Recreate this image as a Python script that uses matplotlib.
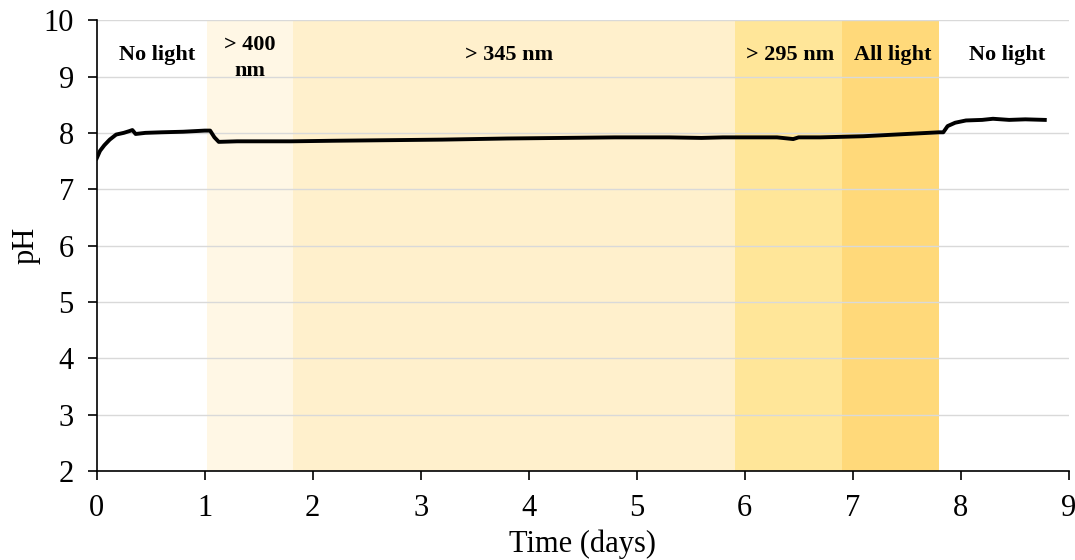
import numpy as np
from matplotlib import pyplot as plt, rcParams

rcParams["font.family"] = ["Liberation Serif", "DejaVu Serif"]

# Light treatment periods (days)
band_starts = [1.02, 1.82, 5.91, 6.90]
band_ends = [1.82, 5.91, 6.90, 7.80]
band_colors = ["#fff7e5", "#fff0cc", "#ffe699", "#ffd97a"]

# Period labels
label_text = ["No light", "> 400\nnm", "> 345 nm", "> 295 nm", "All light", "No light"]
label_x = [0.56, 1.42, 3.82, 6.42, 7.37, 8.43]

# pH record
time_days = [0.00, 0.03, 0.07, 0.12, 0.18, 0.25, 0.30, 0.33, 0.36, 0.45, 0.60,
             0.80, 1.00, 1.05, 1.09, 1.13, 1.30, 1.60, 1.80, 2.20, 2.70, 3.20,
             3.80, 4.30, 4.80, 5.30, 5.60, 5.80, 6.00, 6.30, 6.45, 6.50, 6.70,
             6.90, 7.10, 7.30, 7.50, 7.70, 7.80, 7.84, 7.88, 7.95, 8.05, 8.20,
             8.30, 8.45, 8.60, 8.78]
ph = [7.55, 7.68, 7.78, 7.88, 7.97, 8.00, 8.03, 8.05, 7.98, 8.00, 8.01,
      8.02, 8.04, 8.04, 7.92, 7.84, 7.85, 7.85, 7.85, 7.86, 7.87, 7.88,
      7.90, 7.91, 7.92, 7.92, 7.91, 7.92, 7.92, 7.92, 7.89, 7.92, 7.92,
      7.93, 7.94, 7.96, 7.98, 8.00, 8.01, 8.01, 8.12, 8.18, 8.22, 8.23,
      8.25, 8.23, 8.24, 8.23]

fig = plt.figure(figsize=(10.75, 5.6), dpi=100)
ax = fig.add_axes([0.090, 0.159, 0.904, 0.805])

for x0, x1, c in zip(band_starts, band_ends, band_colors):
    ax.axvspan(x0, x1, color=c, lw=0, zorder=0)

ax.plot(time_days, ph, c="k", lw=2.8, zorder=3, solid_joinstyle="round")

for t, x in zip(label_text, label_x):
    y = 9.38 if "\n" not in t else 9.33
    ax.text(x, y, t, ha="center", va="center", fontsize=16,
            fontweight="bold", linespacing=1.35, zorder=4)

ax.set_xlim(0, 9)
ax.set_ylim(2, 10)
ax.set_xticks(range(0, 10))
ax.set_yticks(range(2, 11))
ax.grid(axis="y", color="#d9d9d9", lw=1, zorder=1)
ax.set_axisbelow(True)
for s in ["top", "right"]:
    ax.spines[s].set_visible(False)
for s in ["left", "bottom"]:
    ax.spines[s].set_linewidth(1.2)
    ax.spines[s].set_zorder(5)
ax.tick_params(direction="out", length=6.5, width=1.2, labelsize=22, pad=10)
ax.set_xlabel("Time (days)", fontsize=22, labelpad=5)
ax.set_ylabel("pH", fontsize=22, labelpad=2)

fig.savefig("out.png", dpi=100)
